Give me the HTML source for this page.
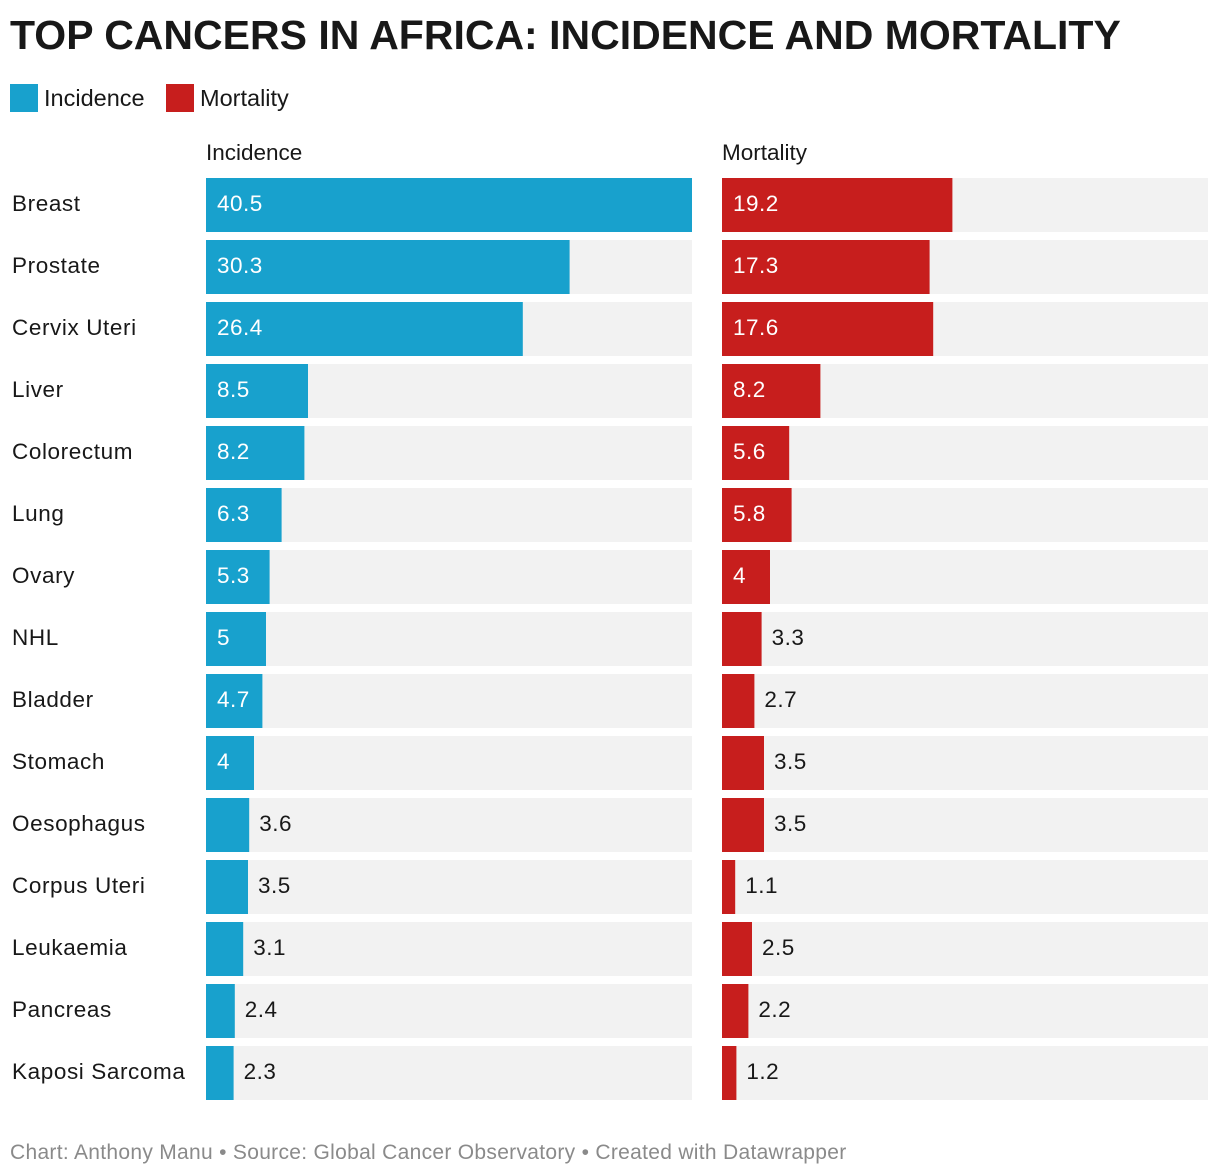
<!DOCTYPE html>
<html><head><meta charset="utf-8">
<style>
body{margin:0;width:1220px;height:1176px;background:#fff;font-family:"Liberation Sans",sans-serif;color:#181818;position:relative;overflow:hidden}
#title{position:absolute;left:10px;top:12px;font-size:41px;font-weight:bold;letter-spacing:0px;margin:0}
.leg{position:absolute;top:84px;font-size:23.5px;display:flex;align-items:center}
.sw{width:28px;height:28px;margin-right:6px}
.hdr{position:absolute;top:140px;font-size:22.5px}
#footer{position:absolute;left:10px;top:1141px;font-size:21px;letter-spacing:0.3px;color:#8a8a8a}
</style></head><body>
<h1 id="title">TOP CANCERS IN AFRICA: INCIDENCE AND MORTALITY</h1>
<div class="leg" style="left:10px"><div class="sw" style="background:#18a1cd"></div>Incidence</div>
<div class="leg" style="left:166px"><div class="sw" style="background:#c71e1d"></div>Mortality</div>
<div class="hdr" style="left:206px">Incidence</div>
<div class="hdr" style="left:722px">Mortality</div>
<svg id="chart" width="1220" height="1176" style="position:absolute;left:0;top:0"></svg>
<div id="footer">Chart: Anthony Manu • Source: Global Cancer Observatory • Created with Datawrapper</div>
<script>
const categories=["Breast","Prostate","Cervix Uteri","Liver","Colorectum","Lung","Ovary","NHL","Bladder","Stomach","Oesophagus","Corpus Uteri","Leukaemia","Pancreas","Kaposi Sarcoma"];
const incidence=[40.5,30.3,26.4,8.5,8.2,6.3,5.3,5,4.7,4,3.6,3.5,3.1,2.4,2.3];
const mortality=[19.2,17.3,17.6,8.2,5.6,5.8,4,3.3,2.7,3.5,3.5,1.1,2.5,2.2,1.2];
const svg=document.getElementById('chart');
const NS='http://www.w3.org/2000/svg';
const maxV=40.5,panelW=486,rowH=62,barH=54,top0=178;
const x=v=>v/maxV*panelW;
const y=i=>top0+i*rowH;
function mk(tag,attrs){const e=document.createElementNS(NS,tag);for(const k in attrs)e.setAttribute(k,attrs[k]);svg.appendChild(e);return e;}
categories.forEach((c,i)=>{
  const t=mk('text',{x:12,y:y(i)+barH/2+6,'font-size':22.5,'letter-spacing':0.6,fill:'#181818'});
  t.textContent=c;
  
  
  [[206,incidence,'#18a1cd','incidence'],[722,mortality,'#c71e1d','mortality']].forEach(([x0,arr,col,nm])=>{
    const bg=mk('rect',{x:x0,y:y(i),width:panelW,height:barH,fill:'#f2f2f2'});
    
    
    const w=x(arr[i]);
    const b=mk('rect',{x:x0,y:y(i),width:w,height:barH,fill:col});
    
    
    const inside=arr[i]>=4;
    const lt=mk('text',{x:inside?x0+11:x0+w+10,y:y(i)+barH/2+6,'font-size':22.5,'letter-spacing':0.5,fill:inside?'#fff':'#181818'});
    lt.textContent=String(arr[i]);
    
    
  });
});
</script>
</body></html>
